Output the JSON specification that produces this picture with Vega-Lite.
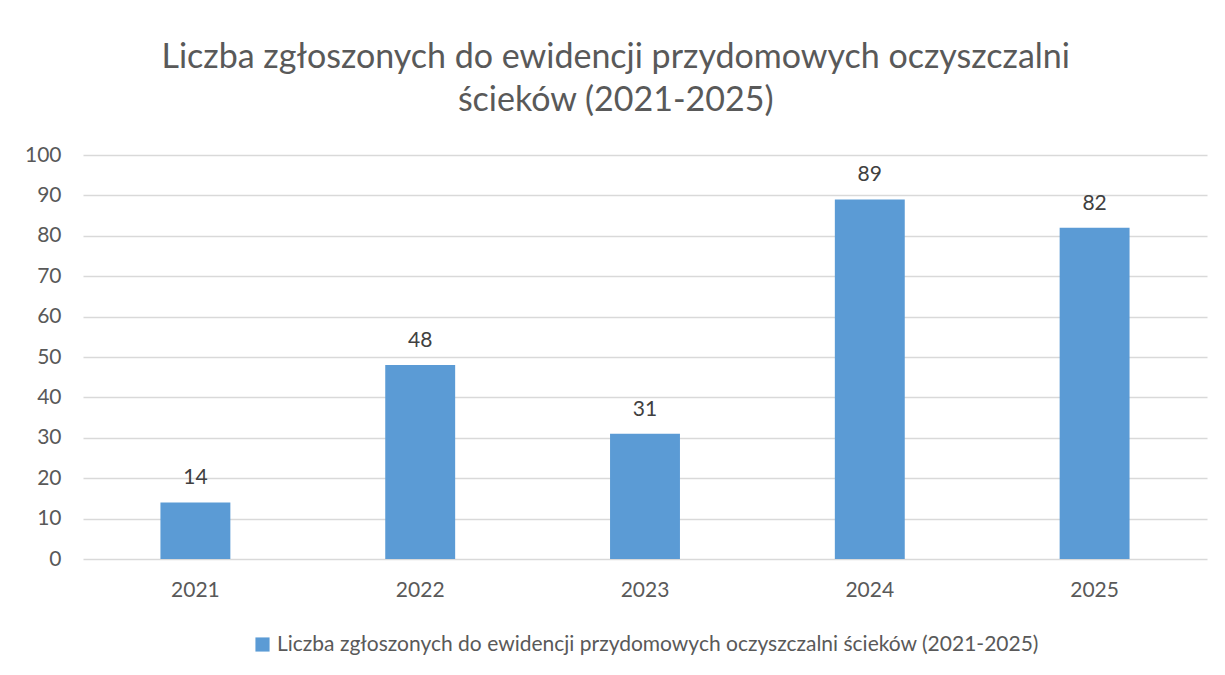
{
  "$schema": "https://vega.github.io/schema/vega-lite/v6.json",
  "width": 1124,
  "height": 404,
  "autosize": {"type": "none"},
  "padding": {"left": 83, "top": 155, "right": 18, "bottom": 116},
  "background": "white",
  "title": {
    "text": ["Liczba zgłoszonych do ewidencji przydomowych oczyszczalni", "ścieków (2021-2025)"],
    "font": "Lato",
    "fontSize": 34,
    "fontWeight": "normal",
    "color": "#595959",
    "lineHeight": 43,
    "anchor": "middle",
    "frame": "bounds",
    "offset": 26
  },
  "data": {
    "values": [
      {"rok": "2021", "liczba": 14},
      {"rok": "2022", "liczba": 48},
      {"rok": "2023", "liczba": 31},
      {"rok": "2024", "liczba": 89},
      {"rok": "2025", "liczba": 82}
    ]
  },
  "encoding": {
    "x": {
      "field": "rok",
      "type": "ordinal",
      "title": null,
      "scale": {"paddingInner": 0.689, "paddingOuter": 0.3445},
      "axis": {
        "labelAngle": 0,
        "ticks": false,
        "domain": false,
        "labelPadding": 20,
        "labelFont": "Lato",
        "labelFontSize": 21,
        "labelColor": "#595959"
      }
    },
    "y": {
      "field": "liczba",
      "type": "quantitative",
      "title": null,
      "scale": {"domain": [0, 100]},
      "axis": {
        "values": [0, 10, 20, 30, 40, 50, 60, 70, 80, 90, 100],
        "ticks": false,
        "domain": false,
        "labelPadding": 22,
        "labelFont": "Lato",
        "labelFontSize": 21,
        "labelColor": "#595959",
        "gridColor": "#D9D9D9",
        "gridWidth": 1.3
      }
    }
  },
  "layer": [
    {
      "mark": {"type": "bar"},
      "encoding": {
        "color": {
          "datum": "Liczba zgłoszonych do ewidencji przydomowych oczyszczalni ścieków (2021-2025)",
          "type": "nominal",
          "scale": {"range": ["#5B9BD5"]},
          "legend": {
            "title": null,
            "orient": "bottom",
            "direction": "horizontal",
            "symbolType": "square",
            "symbolSize": 200,
            "symbolStrokeWidth": 0,
            "labelFont": "Lato",
            "labelFontSize": 21,
            "labelColor": "#595959",
            "labelLimit": 1000,
            "offset": 34
          }
        }
      }
    },
    {
      "mark": {"type": "text", "baseline": "alphabetic", "dy": -18, "font": "Lato", "fontSize": 21, "color": "#404040"},
      "encoding": {"text": {"field": "liczba", "type": "quantitative"}}
    }
  ],
  "config": {
    "view": {"stroke": null},
    "legend": {"layout": {"bottom": {"anchor": "middle"}}}
  }
}
